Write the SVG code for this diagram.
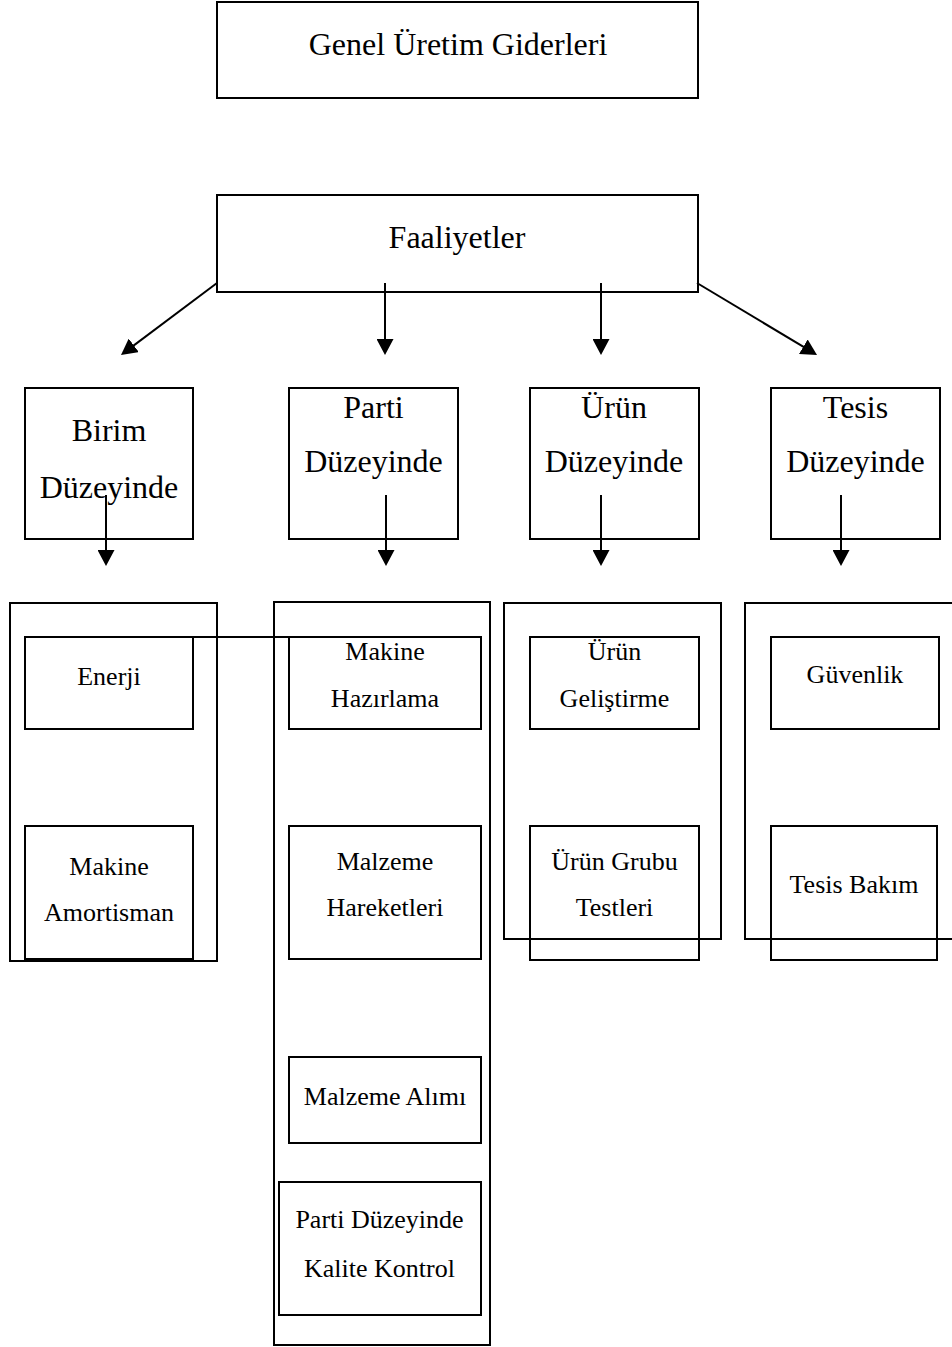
<svg xmlns="http://www.w3.org/2000/svg" width="952" height="1347" viewBox="0 0 952 1347">
<defs>
<style>
rect{fill:none;stroke:#000;stroke-width:2}
.c line{stroke:#000;stroke-width:2}
text{font-family:"Liberation Serif","Times New Roman",serif;fill:#000;text-anchor:middle}
.t1{font-size:32px}
.t2{font-size:26px}
</style>
<marker id="ah" markerUnits="userSpaceOnUse" markerWidth="17" markerHeight="17" refX="12" refY="8.5" orient="auto" viewBox="0 0 17 17">
<path d="M0,0 L16,8.5 L0,17 z" fill="#000"/>
</marker>
</defs>
<rect width="952" height="1347" style="fill:#fff;stroke:none"/>

<g id="genel">
<rect x="217" y="2" width="481" height="96"/>
<text class="t1" x="458" y="55">Genel Üretim Giderleri</text>
</g>
<g id="faaliyetler">
<rect x="217" y="195" width="481" height="97"/>
<text class="t1" x="457" y="248">Faaliyetler</text>
</g>

<g id="birim">
<rect x="25" y="388" width="168" height="151"/>
<text class="t1" x="109" y="441">Birim</text>
<text class="t1" x="109" y="498">Düzeyinde</text>
</g>
<g id="parti">
<rect x="289" y="388" width="169" height="151"/>
<text class="t1" x="373.5" y="418">Parti</text>
<text class="t1" x="373.5" y="472">Düzeyinde</text>
</g>
<g id="urun">
<rect x="530" y="388" width="169" height="151"/>
<text class="t1" x="614" y="418">Ürün</text>
<text class="t1" x="614" y="472">Düzeyinde</text>
</g>
<g id="tesis">
<rect x="771" y="388" width="169" height="151"/>
<text class="t1" x="855.5" y="418">Tesis</text>
<text class="t1" x="855.5" y="472">Düzeyinde</text>
</g>

<g id="grp-birim"><rect x="10" y="603" width="207" height="358"/></g>
<g id="grp-parti"><rect x="274" y="602" width="216" height="743"/></g>
<g id="grp-urun"><rect x="504" y="603" width="217" height="336"/></g>
<g id="grp-tesis"><rect x="745" y="603" width="220" height="336"/></g>

<g id="enerji">
<rect x="25" y="637" width="168" height="92"/>
<text class="t2" x="109" y="685">Enerji</text>
</g>
<g id="makine-amortisman">
<rect x="25" y="826" width="168" height="133"/>
<text class="t2" x="109" y="875">Makine</text>
<text class="t2" x="109" y="921">Amortisman</text>
</g>
<g id="makine-hazirlama">
<rect x="289" y="637" width="192" height="92"/>
<text class="t2" x="385" y="660">Makine</text>
<text class="t2" x="385" y="707">Hazırlama</text>
</g>
<g id="malzeme-hareketleri">
<rect x="289" y="826" width="192" height="133"/>
<text class="t2" x="385" y="870">Malzeme</text>
<text class="t2" x="385" y="916">Hareketleri</text>
</g>
<g id="malzeme-alimi">
<rect x="289" y="1057" width="192" height="86"/>
<text class="t2" x="385" y="1105">Malzeme Alımı</text>
</g>
<g id="kalite-kontrol">
<rect x="279" y="1182" width="202" height="133"/>
<text class="t2" x="379.5" y="1228">Parti Düzeyinde</text>
<text class="t2" x="379.5" y="1277">Kalite Kontrol</text>
</g>
<g id="urun-gelistirme">
<rect x="530" y="637" width="169" height="92"/>
<text class="t2" x="614.5" y="660">Ürün</text>
<text class="t2" x="614.5" y="707">Geliştirme</text>
</g>
<g id="urun-grubu">
<rect x="530" y="826" width="169" height="134"/>
<text class="t2" x="614.5" y="870">Ürün Grubu</text>
<text class="t2" x="614.5" y="916">Testleri</text>
</g>
<g id="guvenlik">
<rect x="771" y="637" width="168" height="92"/>
<text class="t2" x="855" y="683">Güvenlik</text>
</g>
<g id="tesis-bakim">
<rect x="771" y="826" width="166" height="134"/>
<text class="t2" x="854" y="893">Tesis Bakım</text>
</g>

<g class="c" id="connectors">
<line x1="217" y1="283" x2="124.2" y2="352.6" marker-end="url(#ah)"/>
<line x1="385" y1="283" x2="385" y2="351" marker-end="url(#ah)"/>
<line x1="601" y1="283" x2="601" y2="351" marker-end="url(#ah)"/>
<line x1="697" y1="283" x2="813.6" y2="352.9" marker-end="url(#ah)"/>
<line x1="106" y1="495" x2="106" y2="562" marker-end="url(#ah)"/>
<line x1="386" y1="495" x2="386" y2="562" marker-end="url(#ah)"/>
<line x1="601" y1="495" x2="601" y2="562" marker-end="url(#ah)"/>
<line x1="841" y1="495" x2="841" y2="562" marker-end="url(#ah)"/>
<line x1="193" y1="637" x2="289" y2="637"/>
</g>
</svg>
